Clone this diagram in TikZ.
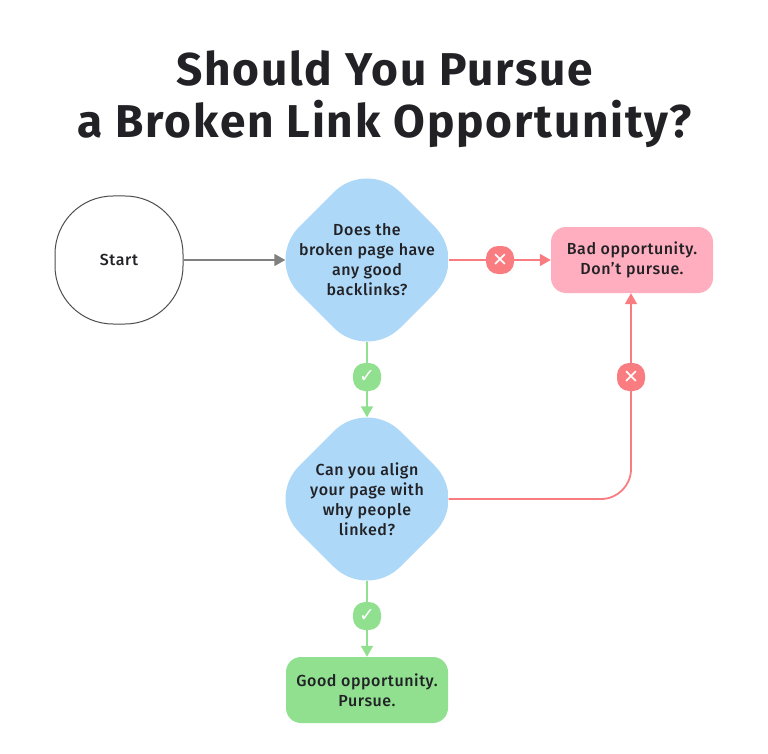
\documentclass[tikz,border=0pt]{standalone}
\usepackage{fontspec}
\setmainfont{Fira Sans}
\newfontfamily\titlefont[LetterSpace=4]{Fira Sans Bold}
\newfontfamily\labelfont[LetterSpace=3.5]{Fira Sans Medium}
\newfontfamily\symbolfont{DejaVu Sans}
\usetikzlibrary{arrows.meta}
\definecolor{askblue}{HTML}{ADD8F8}
\definecolor{badpink}{HTML}{FFAEC0}
\definecolor{goodgreen}{HTML}{90E090}
\definecolor{nored}{HTML}{F97C80}
\definecolor{linegray}{HTML}{808080}
\definecolor{inkdark}{HTML}{222226}
\tikzset{
  label text/.style={text=inkdark, font=\labelfont\fontsize{16}{20}\selectfont, align=center},
  question/.style={circle, minimum size=163pt, inner sep=0pt, label text,
    path picture={\fill[askblue, rounded corners=47pt]
      ([yshift=101pt]path picture bounding box.center)
      -- ([xshift=101pt]path picture bounding box.center)
      -- ([yshift=-101pt]path picture bounding box.center)
      -- ([xshift=-101pt]path picture bounding box.center) -- cycle;}},
  outcome/.style={rectangle, minimum width=162pt, minimum height=66pt, inner sep=0pt, rounded corners=15pt, label text},
  badge/.style={rectangle, minimum size=28pt, inner sep=0pt, rounded corners=12pt, text=white, font=\symbolfont\fontsize{19}{19}\selectfont},
  flow/.style={line width=1.8pt, -{Triangle[length=11pt,width=12pt]}}
}
\begin{document}
\begin{tikzpicture}[x=1pt,y=-1pt]
\useasboundingbox (0,0) rectangle (768,754);
\node (title) at (384.5,99) [text=inkdark, align=center, font=\titlefont\fontsize{46}{52}\selectfont] {Should You Pursue\\a Broken Link Opportunity?};
% nodes
\node (start) at (119,260) [rectangle, draw=black!70, line width=1pt, minimum size=128pt, inner sep=0pt, rounded corners=58pt, label text] {Start};
\node (ask1) at (367,260) [question] {Does the\\broken page have\\any good\\backlinks?};
\node (ask2) at (367,499) [question] {Can you align\\your page with\\why people\\linked?};
\node (bad) at (632,260) [outcome, fill=badpink] {Bad opportunity.\\Don’t pursue.};
\node (good) at (367,690) [outcome, fill=goodgreen] {Good opportunity.\\Pursue.};
% connectors
\draw[flow, linegray] (start) -- (ask1);
\draw[flow, nored] (ask1) -- (bad);
\draw[flow, goodgreen] (ask1) -- (ask2);
\draw[flow, goodgreen] (ask2) -- (good);
\draw[flow, nored, rounded corners=30pt] (ask2.east) -| ([xshift=-1pt]bad.south);
% badges
\foreach \name/\x/\y in {no1/500/260, no2/631/377}
\node (\name) at (\x,\y) [badge, fill=nored] {✕};
\foreach \name/\x/\y in {yes1/367/377, yes2/367/616}
\node (\name) at (\x,\y) [badge, fill=goodgreen] {✓};
\end{tikzpicture}
\end{document}
